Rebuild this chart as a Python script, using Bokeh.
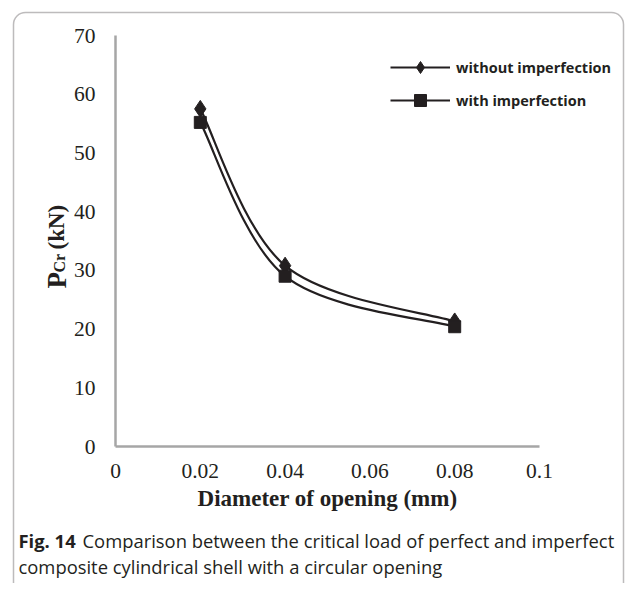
import numpy as np
from bokeh.plotting import figure
from bokeh.models import (Range1d, FixedTicker, Label, Legend, LegendItem,
                          BoxAnnotation, ColumnDataSource)
from bokeh.embed import file_html
from bokeh.resources import INLINE

# ---------------- data ----------------
diameter = [0.02, 0.04, 0.08]
load_without = [57.5, 30.8, 21.3]
load_with = [55.2, 29.0, 20.4]
series_names = ["without imperfection", "with imperfection"]
x_ticks = [0, 0.02, 0.04, 0.06, 0.08, 0.1]
x_tick_labels = ["0", "0.02", "0.04", "0.06", "0.08", "0.1"]
y_ticks = [0, 10, 20, 30, 40, 50, 60, 70]
y_tick_labels = ["0", "10", "20", "30", "40", "50", "60", "70"]
x_title = "Diameter of opening (mm)"
caption_bold = "Fig. 14"
caption_line1 = "Comparison between the critical load of perfect and imperfect"
caption_line2 = "composite cylindrical shell with a circular opening"

INK = "#231f20"

# ---------------- layout constants (pixels) ----------------
W, H = 626, 583
AX_LEFT, AX_RIGHT = 115, 539      # pixel of x = 0 and x = 0.1
AX_BOTTOM, AX_TOP = 446, 35       # pixel of y = 0 and y = 70
XS = (AX_RIGHT - AX_LEFT) / (x_ticks[-1] - x_ticks[0])
YS = (AX_BOTTOM - AX_TOP) / (y_ticks[-1] - y_ticks[0])


def dx(px):
    return (px - AX_LEFT) / XS


def dy(py):
    return (AX_BOTTOM - py) / YS


def smooth_source(xs, ys):
    """Catmull-Rom style bezier segments through the data points."""
    x = np.asarray(xs, float)
    y = np.asarray(ys, float)
    n = len(x)
    xp = np.concatenate([[x[0]], x, [x[-1]]])
    yp = np.concatenate([[y[0]], y, [y[-1]]])
    P0x, P1x, P2x, P3x = xp[0:n - 1], xp[1:n], xp[2:n + 1], xp[3:n + 2]
    P0y, P1y, P2y, P3y = yp[0:n - 1], yp[1:n], yp[2:n + 1], yp[3:n + 2]
    return ColumnDataSource(dict(
        x0=P1x, y0=P1y, x1=P2x, y1=P2y,
        cx0=P1x + (P2x - P0x) / 6, cy0=P1y + (P2y - P0y) / 6,
        cx1=P2x - (P3x - P1x) / 6, cy1=P2y - (P3y - P1y) / 6,
    ))


p = figure(width=W, height=H, output_backend="svg", toolbar_location=None,
           x_range=Range1d(dx(0), dx(W)), y_range=Range1d(dy(H), dy(0)),
           min_border_left=0, min_border_right=0,
           min_border_top=0, min_border_bottom=0)
p.outline_line_color = None
p.xgrid.grid_line_color = None
p.ygrid.grid_line_color = None
p.background_fill_color = "white"
p.border_fill_color = "white"

for ax in (p.xaxis[0], p.yaxis[0]):
    ax.fixed_location = 0
    ax.axis_line_color = "#a6a6a6"
    ax.axis_line_width = 2.5
    ax.major_tick_line_color = None
    ax.minor_tick_line_color = None
    ax.major_tick_out = 0
    ax.major_tick_in = 0
    ax.major_label_text_font = "Liberation Serif"
    ax.major_label_text_font_size = "21.5px"
    ax.major_label_text_color = INK

p.xaxis.major_label_standoff = 17
p.yaxis.major_label_standoff = 20
p.xaxis.bounds = (x_ticks[0], x_ticks[-1])
p.yaxis.bounds = (y_ticks[0], y_ticks[-1])
p.xaxis.ticker = FixedTicker(ticks=x_ticks)
p.xaxis.major_label_overrides = {t: l for t, l in zip(x_ticks, x_tick_labels)}
p.yaxis.ticker = FixedTicker(ticks=y_ticks)
p.yaxis.major_label_overrides = {t: l for t, l in zip(y_ticks, y_tick_labels)}
p.xaxis.axis_label = x_title
p.xaxis.axis_label_text_font = "Liberation Serif"
p.xaxis.axis_label_text_font_style = "bold"
p.xaxis.axis_label_text_font_size = "23px"
p.xaxis.axis_label_text_color = INK
p.xaxis.axis_label_standoff = 5

# curves
src1 = smooth_source(diameter, load_without)
src2 = smooth_source(diameter, load_with)
b1 = p.bezier(x0="x0", y0="y0", x1="x1", y1="y1", cx0="cx0", cy0="cy0",
              cx1="cx1", cy1="cy1", source=src1, line_color=INK, line_width=2.2)
b2 = p.bezier(x0="x0", y0="y0", x1="x1", y1="y1", cx0="cx0", cy0="cy0",
              cx1="cx1", cy1="cy1", source=src2, line_color=INK, line_width=2.2)
s1 = p.scatter(diameter, load_without, marker="diamond", size=17, color=INK)
s2 = p.scatter(diameter, load_with, marker="square", size=12, color=INK)

legend = Legend(items=[LegendItem(label=series_names[0], renderers=[b1, s1]),
                       LegendItem(label=series_names[1], renderers=[b2, s2])],
                location=(390, H - 115), padding=0, margin=0,
                border_line_color=None, background_fill_alpha=0,
                glyph_width=60, glyph_height=30, label_height=30,
                spacing=3, label_standoff=6,
                label_text_font="Open Sans", label_text_font_style="bold",
                label_text_font_size="14.5px", label_text_color=INK)
p.add_layout(legend)

# y axis title with subscript (rotated)
for txt, px, py, size in [("P", 56, 288, "27px"), ("Cr", 59, 272, "16px"),
                          ("(kN)", 56, 249, "23px")]:
    p.add_layout(Label(x=dx(px), y=dy(py), text=txt, angle=np.pi / 2,
                       text_align="left", text_baseline="alphabetic",
                       text_font="Liberation Serif", text_font_style="bold",
                       text_font_size=size, text_color=INK))

# caption
CAP = "18.4px"
p.add_layout(Label(x=dx(18), y=dy(540), text=caption_bold, text_font="Open Sans",
                   text_font_style="bold", text_font_size=CAP,
                   text_baseline="middle", text_color=INK))
p.add_layout(Label(x=dx(82), y=dy(540), text=caption_line1, text_font="Open Sans",
                   text_font_size=CAP, text_baseline="middle", text_color=INK))
p.add_layout(Label(x=dx(18), y=dy(566), text=caption_line2, text_font="Open Sans",
                   text_font_size=CAP, text_baseline="middle", text_color=INK))

# rounded frame around the figure (open at the bottom edge of the picture)
p.add_layout(BoxAnnotation(left=dx(13), right=dx(623), top=dy(12), bottom=dy(700),
                           fill_alpha=0, line_color=INK, line_width=1.5,
                           border_radius=12))

open("out.html", "w").write(file_html(p, INLINE))
